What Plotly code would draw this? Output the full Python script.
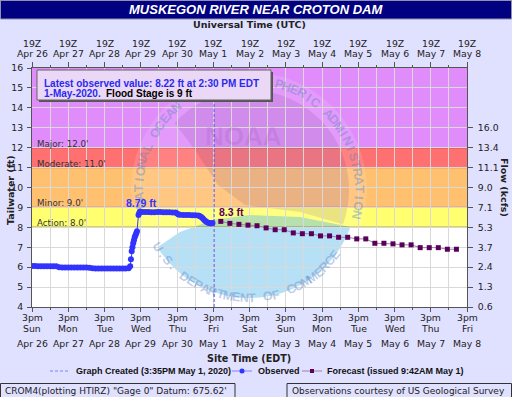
import math
import plotly.graph_objects as go

# ---------------- data ----------------
obs_time = [
    "2020-04-26 15:00", "2020-04-26 17:00", "2020-04-26 19:00", "2020-04-26 21:00",
    "2020-04-26 23:00", "2020-04-27 01:00", "2020-04-27 03:00", "2020-04-27 05:00",
    "2020-04-27 07:00", "2020-04-27 09:00", "2020-04-27 11:00", "2020-04-27 13:00",
    "2020-04-27 15:00", "2020-04-27 17:00", "2020-04-27 19:00", "2020-04-27 21:00",
    "2020-04-27 23:00", "2020-04-28 01:00", "2020-04-28 03:00", "2020-04-28 05:00",
    "2020-04-28 07:00", "2020-04-28 09:00", "2020-04-28 11:00", "2020-04-28 13:00",
    "2020-04-28 15:00", "2020-04-28 17:00", "2020-04-28 19:00", "2020-04-28 21:00",
    "2020-04-28 23:00", "2020-04-29 01:00", "2020-04-29 03:00", "2020-04-29 05:00",
    "2020-04-29 07:00", "2020-04-29 08:00", "2020-04-29 08:30", "2020-04-29 09:00",
    "2020-04-29 09:30", "2020-04-29 10:00", "2020-04-29 10:30", "2020-04-29 11:00",
    "2020-04-29 11:30", "2020-04-29 12:00", "2020-04-29 12:30", "2020-04-29 13:30",
    "2020-04-29 14:00", "2020-04-29 14:30", "2020-04-29 16:00", "2020-04-29 18:00",
    "2020-04-29 20:00", "2020-04-29 22:00", "2020-04-30 00:00", "2020-04-30 02:00",
    "2020-04-30 04:00", "2020-04-30 06:00", "2020-04-30 08:00", "2020-04-30 10:00",
    "2020-04-30 12:00", "2020-04-30 14:00", "2020-04-30 15:00", "2020-04-30 16:00",
    "2020-04-30 17:00", "2020-04-30 19:00", "2020-04-30 21:00", "2020-04-30 23:00",
    "2020-05-01 01:00", "2020-05-01 03:00", "2020-05-01 05:00", "2020-05-01 06:00",
    "2020-05-01 07:00", "2020-05-01 08:00", "2020-05-01 09:00", "2020-05-01 10:00",
    "2020-05-01 11:00", "2020-05-01 12:00", "2020-05-01 13:00", "2020-05-01 14:00",
    "2020-05-01 14:30",
]
obs_stage = [
    6.06, 6.06, 6.05, 6.05,
    6.05, 6.05, 6.05, 6.05,
    6.04, 5.99, 5.98, 5.98,
    5.98, 5.98, 5.98, 5.98,
    5.98, 5.98, 5.98, 5.97,
    5.94, 5.93, 5.93, 5.93,
    5.93, 5.93, 5.93, 5.93,
    5.93, 5.93, 5.93, 5.93,
    5.95, 6.05, 6.40, 6.80,
    7.00, 7.20, 7.35, 7.50,
    7.60, 7.70, 7.80, 8.62,
    8.72, 8.79, 8.77, 8.77,
    8.77, 8.76, 8.76, 8.77,
    8.77, 8.76, 8.76, 8.76,
    8.75, 8.75, 8.70, 8.65,
    8.63, 8.62, 8.62, 8.62,
    8.61, 8.61, 8.60, 8.57,
    8.52, 8.45, 8.37, 8.30,
    8.25, 8.22, 8.20, 8.20,
    8.22,
]

fc_time = [
    "2020-05-01 20:00", "2020-05-02 02:00", "2020-05-02 08:00", "2020-05-02 14:00",
    "2020-05-02 20:00", "2020-05-03 02:00", "2020-05-03 08:00", "2020-05-03 14:00",
    "2020-05-03 20:00", "2020-05-04 02:00", "2020-05-04 08:00", "2020-05-04 14:00",
    "2020-05-04 20:00", "2020-05-05 02:00", "2020-05-05 08:00", "2020-05-05 14:00",
    "2020-05-05 20:00", "2020-05-06 02:00", "2020-05-06 08:00", "2020-05-06 14:00",
    "2020-05-06 20:00", "2020-05-07 02:00", "2020-05-07 08:00", "2020-05-07 14:00",
    "2020-05-07 20:00", "2020-05-08 02:00", "2020-05-08 08:00",
]
fc_stage = [
    8.30, 8.20, 8.15, 8.11,
    8.08, 7.97, 7.88, 7.88,
    7.72, 7.68, 7.68, 7.57,
    7.57, 7.50, 7.50, 7.42,
    7.42, 7.20, 7.20, 7.17,
    7.12, 7.12, 6.98, 6.98,
    6.98, 6.90, 6.90,
]

created_time = "2020-05-01 15:35"

flood_levels = [8, 9, 11, 12]
flood_labels = ["Action: 8.0'", "Minor: 9.0'", "Moderate: 11.0'", "Major: 12.0'"]

stage_ticks = [4, 5, 6, 7, 8, 9, 10, 11, 12, 13, 14, 15, 16]
flow_ticks = [4, 5, 6, 7, 8, 9, 10, 11, 12, 13]
flow_labels = ["0.6", "1.3", "2.4", "3.7", "5.3", "7.1", "9.0", "11.1", "13.4", "16.0"]

day_ticks = [
    "2020-04-26 15:00", "2020-04-27 15:00", "2020-04-28 15:00", "2020-04-29 15:00",
    "2020-04-30 15:00", "2020-05-01 15:00", "2020-05-02 15:00", "2020-05-03 15:00",
    "2020-05-04 15:00", "2020-05-05 15:00", "2020-05-06 15:00", "2020-05-07 15:00",
    "2020-05-08 15:00",
]
weekday_labels = ["Sun", "Mon", "Tue", "Wed", "Thu", "Fri", "Sat", "Sun", "Mon",
                  "Tue", "Wed", "Thu", "Fri"]
date_labels = ["Apr 26", "Apr 27", "Apr 28", "Apr 29", "Apr 30", "May 1", "May 2",
               "May 3", "May 4", "May 5", "May 6", "May 7", "May 8"]
utc_label = "19Z"
local_label = "3pm"

# ---------------- layout helpers ----------------
W, H = 512, 397
L, R, T, B = 32, 45, 68, 90
PW, PH = W - L - R, H - T - B


def px(x):
    return (x - L) / PW


def py(y):
    return (H - B - y) / PH


BG = "#e0e0ff"
GRID = "#d9d9d9"
AX = "#555555"
TICKFONT = dict(family="DejaVu Sans", size=9.3, color="#222222")
BOLD = "Liberation Sans, Arial, sans-serif"

fig = go.Figure()

# graph created line
fig.add_trace(go.Scatter(
    x=[created_time, created_time], y=[4, 16], mode="lines",
    line=dict(color="#5a5aee", width=1, dash="3px,2px"),
    hoverinfo="skip", showlegend=False))

# observed
fig.add_trace(go.Scatter(
    x=obs_time, y=obs_stage, mode="lines+markers",
    line=dict(color="#3838ff", width=1),
    marker=dict(color="#3333ff", size=6, symbol="circle"),
    showlegend=False, name="Observed"))

# forecast
fig.add_trace(go.Scatter(
    x=fc_time, y=fc_stage, mode="lines+markers",
    line=dict(color="#9a80a8", width=1),
    marker=dict(color="#5a005a", size=5, symbol="square"),
    showlegend=False, name="Forecast"))

# invisible traces so the top and right axes are drawn
fig.add_trace(go.Scatter(x=[day_ticks[0]], y=[4], xaxis="x2", yaxis="y",
                         mode="markers", marker=dict(opacity=0), showlegend=False,
                         hoverinfo="skip"))
fig.add_trace(go.Scatter(x=[day_ticks[0]], y=[4], xaxis="x", yaxis="y2",
                         mode="markers", marker=dict(opacity=0), showlegend=False,
                         hoverinfo="skip"))

shapes = []
# flood bands
band_edges = [8, 9, 11, 12, 16]
band_colors = ["#ffff70", "#ffc070", "#ff7070", "#e08cfa"]
for i, col in enumerate(band_colors):
    shapes.append(dict(type="rect", xref="paper", yref="y", x0=0, x1=1,
                       y0=band_edges[i], y1=band_edges[i + 1], fillcolor=col,
                       line=dict(width=0), layer="below"))

# watermark (NOAA logo, faint)
cx, cy = 249, 190
r_out, r_in = 118, 100


def circle_pts(r, a0, a1, n=40):
    pts = []
    for k in range(n + 1):
        a = math.radians(a0 + (a1 - a0) * k / n)
        pts.append((cx + r * math.cos(a), cy + r * math.sin(a)))
    return pts


def path_from(pts):
    s = "M %.4f %.4f " % (px(pts[0][0]), py(pts[0][1]))
    for p in pts[1:]:
        s += "L %.4f %.4f " % (px(p[0]), py(p[1]))
    return s + "Z"


shapes.append(dict(type="circle", xref="paper", yref="paper",
                   x0=px(cx - r_out), x1=px(cx + r_out), y0=py(cy + r_out), y1=py(cy - r_out),
                   fillcolor="rgba(255,255,255,0.12)", line=dict(width=0), layer="below"))
# dark upper part of disk
dark = circle_pts(r_in, 222, 380) + [(300, 212), (245, 205), (218, 185), (195, 150)]
shapes.append(dict(type="path", xref="paper", yref="paper", path=path_from(dark),
                   fillcolor="rgba(90,40,140,0.13)", line=dict(width=0), layer="below"))
# blue lower part
blue = circle_pts(r_in + 8, 148, 20) + [(300, 217), (250, 215), (213, 220), (180, 232)]
shapes.append(dict(type="path", xref="paper", yref="paper", path=path_from(blue),
                   fillcolor="rgba(80,180,230,0.42)", line=dict(width=0), layer="below"))

# flood stage lines
for lev in flood_levels:
    shapes.append(dict(type="line", xref="paper", yref="y", x0=0, x1=1, y0=lev, y1=lev,
                       line=dict(color="#000000" if lev == 8 else "#7a1f1f", width=1),
                       layer="between"))

# title bar
shapes.append(dict(type="rect", xref="paper", yref="paper", x0=px(0.5), x1=px(511.5),
                   y0=py(19), y1=py(0.5), fillcolor="#000080",
                   line=dict(color="#9090b0", width=1)))
# info box shadow + box
shapes.append(dict(type="rect", xref="paper", yref="paper", x0=px(39), x1=px(273),
                   y0=py(102), y1=py(72), fillcolor="#555555", line=dict(width=0)))
shapes.append(dict(type="rect", xref="paper", yref="paper", x0=px(37), x1=px(271),
                   y0=py(100), y1=py(70), fillcolor="#ead8f6",
                   line=dict(color="#666666", width=1)))
# footer boxes
shapes.append(dict(type="rect", xref="paper", yref="paper", x0=px(0.5), x1=px(235),
                   y0=py(398), y1=py(383.5), fillcolor=BG,
                   line=dict(color="#333333", width=1)))
shapes.append(dict(type="rect", xref="paper", yref="paper", x0=px(287), x1=px(511.5),
                   y0=py(398), y1=py(383.5), fillcolor=BG,
                   line=dict(color="#333333", width=1)))

# custom legend samples
ly = 371
shapes.append(dict(type="line", xref="paper", yref="paper", x0=px(50), x1=px(70),
                   y0=py(ly), y1=py(ly), line=dict(color="#8080ff", width=1, dash="3px,2px")))
shapes.append(dict(type="line", xref="paper", yref="paper", x0=px(232), x1=px(252),
                   y0=py(ly), y1=py(ly), line=dict(color="#8080ff", width=1)))
shapes.append(dict(type="circle", xref="paper", yref="paper", x0=px(239.5), x1=px(244.5),
                   y0=py(ly + 2.5), y1=py(ly - 2.5), fillcolor="#3333ff",
                   line=dict(width=0)))
shapes.append(dict(type="line", xref="paper", yref="paper", x0=px(302), x1=px(322),
                   y0=py(ly), y1=py(ly), line=dict(color="#9a80a8", width=1)))
shapes.append(dict(type="rect", xref="paper", yref="paper", x0=px(310), x1=px(314),
                   y0=py(ly + 2), y1=py(ly - 2), fillcolor="#5a005a",
                   line=dict(width=0)))

ann = []


def text(x, y, s, size=9.3, family="DejaVu Sans", color="#222222", xanchor="center",
         yanchor="middle", angle=0):
    ann.append(dict(x=px(x), y=py(y), xref="paper", yref="paper", text=s,
                    showarrow=False, xanchor=xanchor, yanchor=yanchor, textangle=angle,
                    font=dict(family=family, size=size, color=color)))


# watermark letters
def arc_text(s, a0, a1, r, top):
    n = len(s)
    for i, ch in enumerate(s):
        if ch == " ":
            continue
        a = a0 + (a1 - a0) * (i + 0.5) / n
        x = cx + r * math.cos(math.radians(a))
        y = cy + r * math.sin(math.radians(a))
        if 35 <= x <= 275 and y <= 106:
            continue
        if y < 74 or y > 302:
            continue
        ang = a + 90 if top else a - 90
        while ang > 180:
            ang -= 360
        while ang < -180:
            ang += 360
        text(x, y, "<b>%s</b>" % ch, size=12.5, family=BOLD,
             color="rgba(90,125,195,0.40)", angle=ang)


arc_text("NATIONAL OCEANIC AND ATMOSPHERIC ADMINISTRATION", 170, 375, 110, True)
arc_text("U.S. DEPARTMENT OF COMMERCE", 150, 35, 108, False)
text(243, 136, "<b>NOAA</b>", size=26, family=BOLD, color="rgba(120,50,160,0.12)")

# title and axis titles
text(256, 9.5, "<b><i>MUSKEGON RIVER NEAR CROTON DAM</i></b>", size=13, family=BOLD,
     color="#ffffff")
text(249, 25, "<b>Universal Time (UTC)</b>", size=9.5)
text(249, 358, "<b>Site Time (EDT)</b>", size=9.6)
text(10, 190, "<b>Tailwater (ft)</b>", size=9.5, angle=-90)
text(505, 187, "<b>Flow (kcfs)</b>", size=9.5, angle=90)

# time axis labels
for i, d in enumerate(day_ticks):
    for yy, s in [(44, utc_label), (53.7, date_labels[i]), (317, local_label),
                  (328.7, weekday_labels[i]), (343.5, date_labels[i])]:
        ann.append(dict(x=d, xref="x", y=py(yy), yref="paper", text=s, showarrow=False,
                        xanchor="center", yanchor="middle", font=TICKFONT))

# flood labels
for lev, lab in zip(flood_levels, flood_labels):
    ann.append(dict(x=px(35), xref="paper", y=lev, yref="y", text=lab, showarrow=False,
                    xanchor="left", yanchor="middle", yshift=4,
                    font=dict(family="DejaVu Sans", size=8.7, color="#333333")))

# point labels
peak_i = obs_stage.index(max(obs_stage))
ann.append(dict(x=obs_time[peak_i], y=obs_stage[peak_i], xref="x", yref="y",
                text="<b>%.2f ft</b>" % obs_stage[peak_i], showarrow=False,
                xanchor="center", yanchor="bottom", xshift=2, yshift=1,
                font=dict(family=BOLD, size=10.5, color="#3333ff")))
ann.append(dict(x=fc_time[0], y=fc_stage[0], xref="x", yref="y",
                text="<b>%.1f ft</b>" % fc_stage[0], showarrow=False,
                xanchor="left", yanchor="bottom", xshift=-4, yshift=1,
                font=dict(family=BOLD, size=10.5, color="#5a005a")))

# info box text
text(42, 83, "<b>Latest observed value: %.2f ft at 2:30 PM EDT</b>" % obs_stage[-1],
     size=10, family=BOLD, color="#2a2aee", xanchor="left")
text(42, 93, "<b>1-May-2020.</b>", size=10, family=BOLD, color="#2a2aee",
     xanchor="left")
text(104, 93, "<b>Flood Stage is 9 ft</b>", size=10, family=BOLD, color="#000000",
     xanchor="left")

# legend text
text(74, ly, "<b>Graph Created (3:35PM May 1, 2020)</b>", size=9, family=BOLD,
     xanchor="left", color="#111111")
text(256, ly, "<b>Observed</b>", size=9, family=BOLD, xanchor="left", color="#111111")
text(325, ly, "<b>Forecast (issued 9:42AM May 1)</b>", size=9, family=BOLD,
     xanchor="left", color="#111111")

# footer text
text(3, 391, "CROM4(plotting HTIRZ) \"Gage 0\" Datum: 675.62'", size=9, xanchor="left")
text(290, 391, "Observations courtesy of US Geological Survey", size=9, xanchor="left")

xrange = ["2020-04-26 15:00", "2020-05-08 15:00"]
minor = dict(dtick=43200000, tick0="2020-04-27 03:00", ticks="outside", ticklen=2,
             tickcolor=AX, showgrid=True, gridcolor=GRID, gridwidth=1)

fig.update_layout(
    width=W, height=H, autosize=False,
    margin=dict(l=L, r=R, t=T, b=B, pad=0),
    paper_bgcolor=BG, plot_bgcolor="#ffffff",
    showlegend=False,
    shapes=shapes, annotations=ann,
    xaxis=dict(type="date", range=xrange, tickmode="array", tickvals=day_ticks,
               showticklabels=False, ticks="outside", ticklen=4, tickcolor=AX,
               showgrid=True, gridcolor=GRID, gridwidth=1, showline=True,
               linecolor=AX, linewidth=1, zeroline=False, minor=minor,
               fixedrange=True),
    xaxis2=dict(type="date", range=xrange, overlaying="x", side="top", anchor="y",
                tickmode="array", tickvals=day_ticks, showticklabels=False,
                ticks="outside", ticklen=5, tickcolor=AX, showgrid=False,
                showline=True, linecolor=AX, linewidth=1, zeroline=False,
                minor=dict(dtick=43200000, tick0="2020-04-27 03:00", ticks="outside",
                           ticklen=2, tickcolor=AX, showgrid=False)),
    yaxis=dict(range=[4, 16], tickmode="array", tickvals=stage_ticks,
               ticks="outside", ticklen=4, tickcolor=AX, tickfont=TICKFONT,
               showgrid=True, gridcolor=GRID, gridwidth=1, showline=True,
               linecolor=AX, linewidth=1, zeroline=False, ticklabelstandoff=2),
    yaxis2=dict(range=[4, 16], overlaying="y", side="right", anchor="x",
                tickmode="array", tickvals=flow_ticks, ticktext=flow_labels,
                ticks="outside", ticklen=5, tickcolor=AX, tickfont=TICKFONT,
                showgrid=False, showline=True, linecolor=AX, linewidth=1,
                zeroline=False, ticklabelstandoff=3),
)

fig.write_html("out.html", config={"displayModeBar": False},
               post_script="document.body.style.margin='0px';document.body.style.padding='0px';")
